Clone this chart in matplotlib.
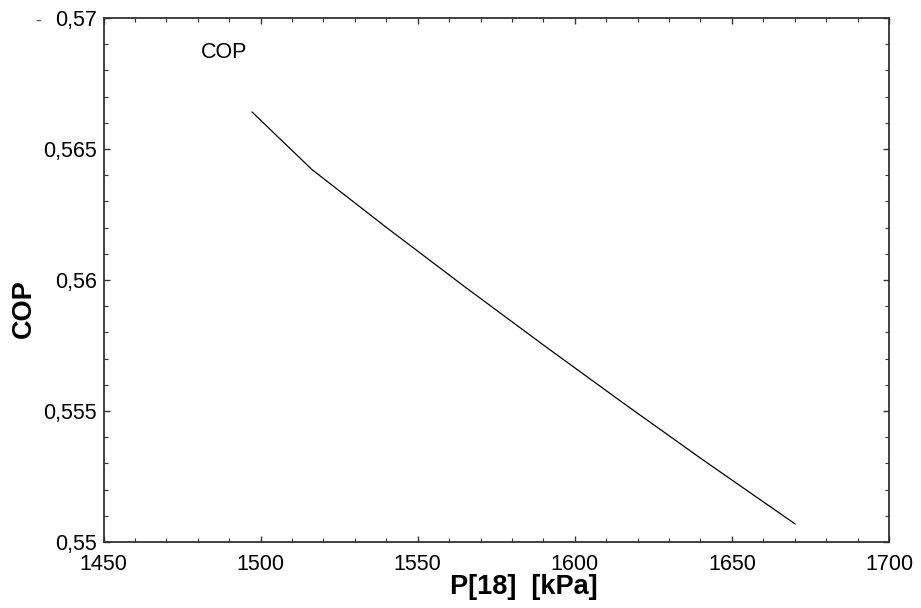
import matplotlib
matplotlib.use("Agg")
import matplotlib.pyplot as plt
from matplotlib.ticker import MultipleLocator, FuncFormatter

plt.rcParams.update({"font.family": ["Liberation Sans", "DejaVu Sans"]})

# COP vs P[18]
p18 = [1497.3, 1516.3, 1540, 1565, 1590, 1615, 1640, 1670.1]
cop = [0.56641, 0.56422, 0.56201, 0.55974, 0.55752, 0.55534, 0.55320, 0.55069]

x_ticks = [1450, 1500, 1550, 1600, 1650, 1700]
y_ticks = [0.55, 0.555, 0.56, 0.565, 0.57]

fig = plt.figure(figsize=(9.21, 6.08), dpi=100)
ax = fig.add_axes([103.5 / 921, 1 - 542 / 608, (889 - 103.5) / 921, (542 - 18) / 608])

ax.plot(p18, cop, color="black", lw=0.9)

ax.set_xlim(1450, 1700)
ax.set_ylim(0.55, 0.57)
ax.set_xticks(x_ticks)
ax.set_yticks(y_ticks)
ax.xaxis.set_minor_locator(MultipleLocator(10))
ax.yaxis.set_minor_locator(MultipleLocator(0.001))
ax.yaxis.set_major_formatter(FuncFormatter(lambda v, _: f"{v:g}".replace(".", ",")))
ax.tick_params(which="both", direction="in", top=True, right=True, color="#333333")
ax.tick_params(which="major", length=4.5, width=1, labelsize=15.5, pad=5)
ax.tick_params(which="minor", length=2.6, width=0.8)
ax.tick_params(axis="x", which="major", pad=9)
for s in ax.spines.values():
    s.set_linewidth(1.3)
    s.set_color("#333333")

ax.text(1481, 0.5687, "COP", fontsize=15.5, ha="left", va="center")

fig.text(524 / 921, 1 - 587 / 608, "P[18]  [kPa]", fontsize=19.5, fontweight="bold",
         ha="center", va="center")
fig.text(24 / 921, 1 - 309 / 608, "COP", fontsize=19.5, fontweight="bold",
         ha="center", va="center", rotation=90)
fig.text(38 / 921, 1 - 21 / 608, "-", fontsize=13, ha="center", va="center", color="#555555")

fig.savefig("out.png", dpi=100)
